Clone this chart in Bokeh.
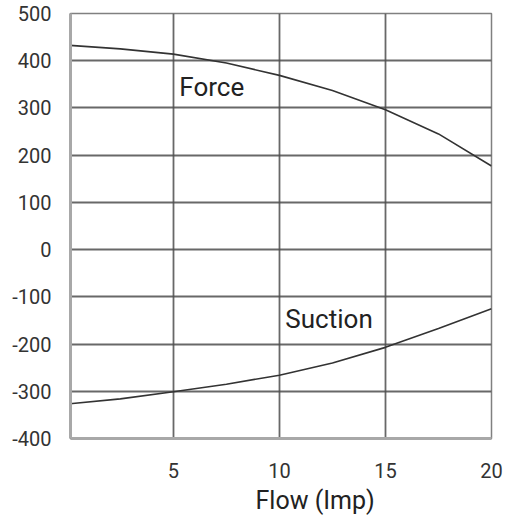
from bokeh.plotting import figure
from bokeh.models import Range1d, FixedTicker, Label, Title
from bokeh.embed import file_html
from bokeh.resources import INLINE

flow = [0, 2.5, 5, 7.5, 10, 12.5, 15, 17.5, 20]
force = [433, 425, 414, 395, 369, 337, 296, 245, 177]
suction = [-327, -316, -301, -285, -266, -240, -207, -167, -125]
x_ticks = [5, 10, 15, 20]
y_ticks = [-400, -300, -200, -100, 0, 100, 200, 300, 400, 500]
x_label = "Flow (Imp)"
series_labels = ["Force", "Suction"]

FONT = "Roboto"

p = figure(width=521, height=525, output_backend="svg", toolbar_location=None,
           x_range=Range1d(0.15, 20), y_range=Range1d(-400, 500),
           min_border_left=70, min_border_right=30, min_border_top=13, min_border_bottom=87)
p.background_fill_color = "white"
p.border_fill_color = "white"
p.outline_line_color = "#808080"
p.outline_line_width = 1.5

for ax in (p.xaxis[0], p.yaxis[0]):
    ax.axis_line_color = "#a8a8a8"
    ax.axis_line_width = 3
    ax.major_tick_line_color = None
    ax.minor_tick_line_color = None
    ax.major_label_text_font = FONT
    ax.major_label_text_font_size = "20px"
    ax.major_label_text_color = "#333333"

p.xaxis.ticker = FixedTicker(ticks=x_ticks)
p.yaxis.ticker = FixedTicker(ticks=y_ticks)
p.yaxis.major_label_overrides = {v: str(v) for v in y_ticks}
p.xaxis.major_label_standoff = 18
p.yaxis.major_label_standoff = 13

p.xgrid.ticker = FixedTicker(ticks=x_ticks)
p.ygrid.ticker = FixedTicker(ticks=y_ticks)
for g in (p.xgrid[0], p.ygrid[0]):
    g.grid_line_color = "#4d4d4d"
    g.grid_line_width = 1.8
    g.grid_line_alpha = 0.85

p.line(flow, force, line_color="#333333", line_width=1.6)
p.line(flow, suction, line_color="#333333", line_width=1.6)

p.add_layout(Label(x=5.28, y=345, text=series_labels[0], text_font=FONT,
                   text_font_size="26px", text_color="#222222", text_baseline="alphabetic"))
p.add_layout(Label(x=10.28, y=-146, text=series_labels[1], text_font=FONT,
                   text_font_size="26px", text_color="#222222", text_baseline="alphabetic"))

p.add_layout(Title(text=x_label, align="left", offset=185, text_font=FONT,
                   text_font_size="25px", text_font_style="normal", text_color="#222222",
                   standoff=6), "below")

open("out.html", "w").write(file_html(p, INLINE))
